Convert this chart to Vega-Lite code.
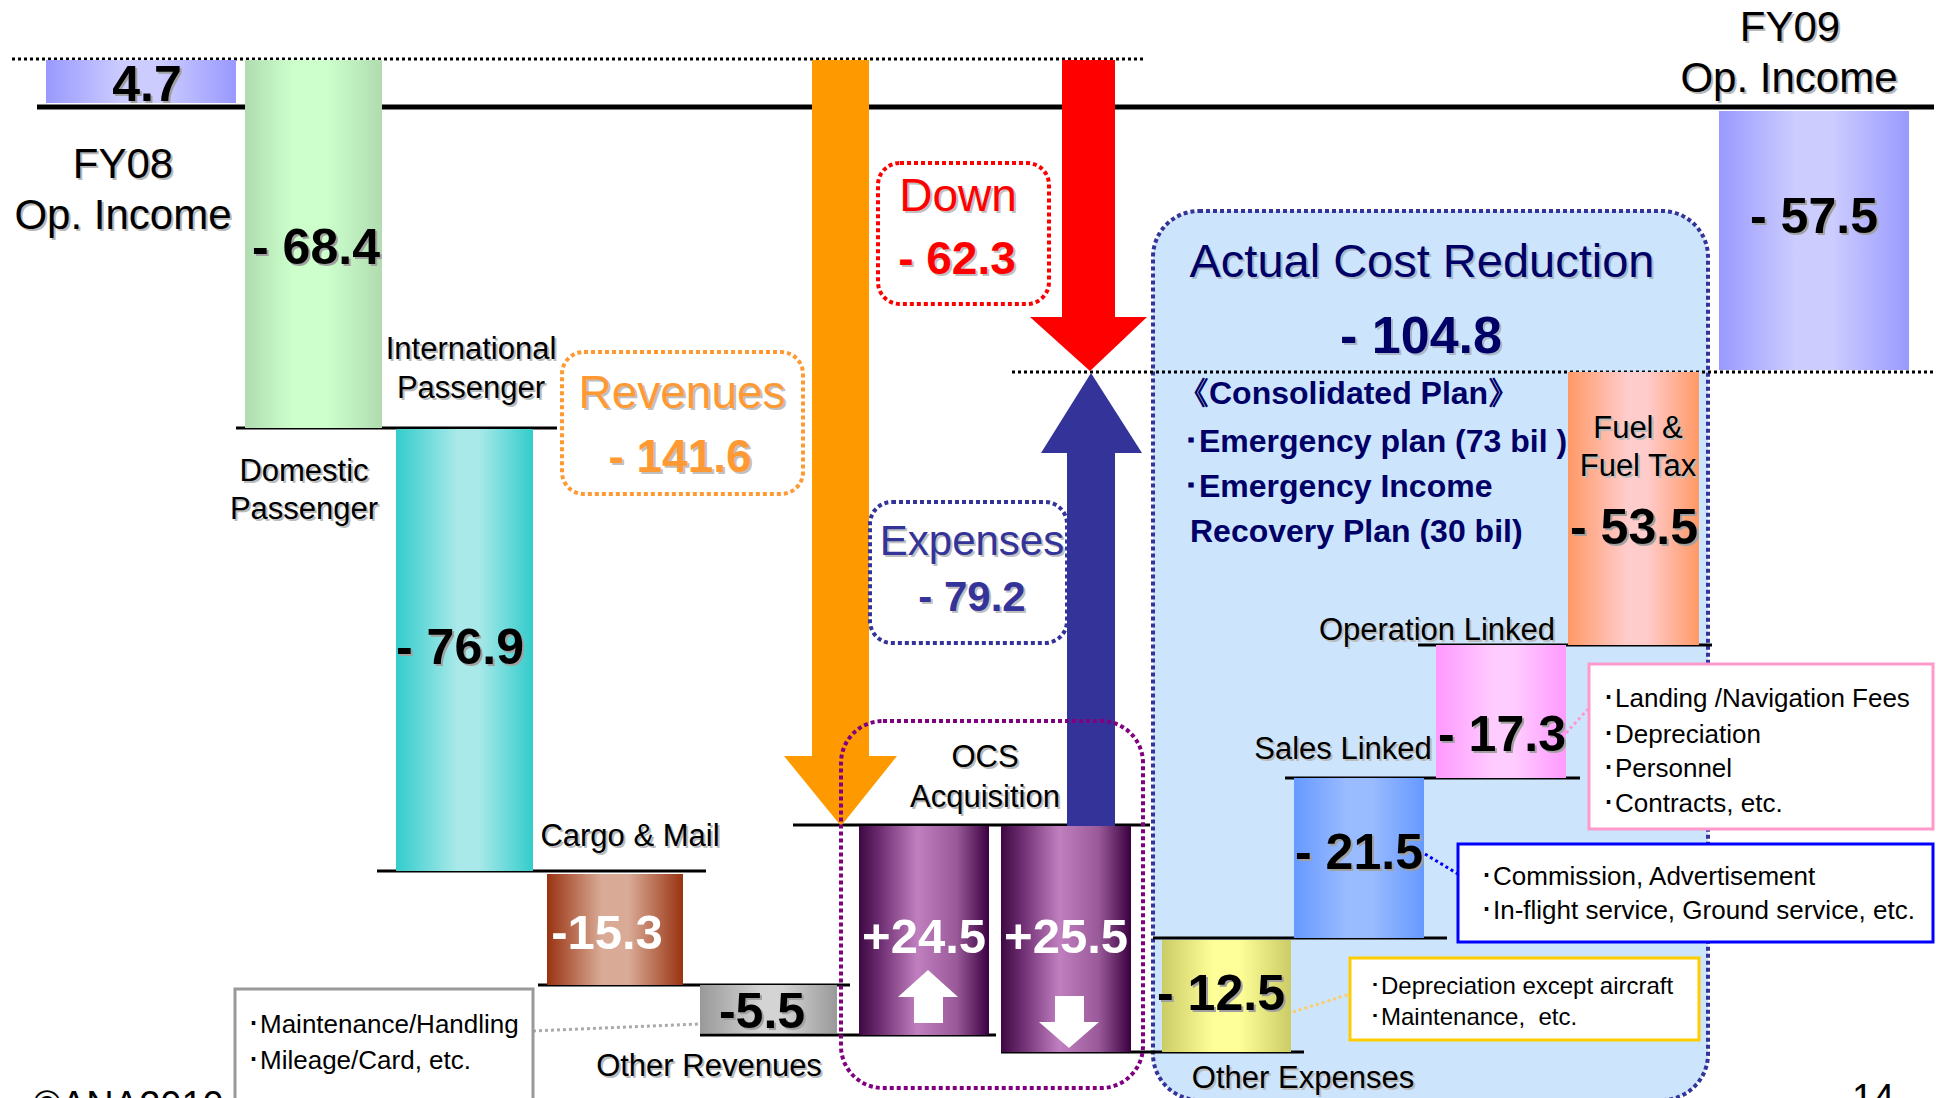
{
"$schema":"https://vega.github.io/schema/vega-lite/v6.json",
"width":1936,"height":1098,"autosize":{"type":"none"},"padding":0,
"background":"#ffffff",
"config":{"view":{"stroke":null}},
"datasets":{
"panels":[
{"id":"Actual Cost Reduction","x":1153,"x2":1708,"y":211,"y2":1100},
{"id":"Revenues","x":562,"x2":803,"y":352,"y2":494},
{"id":"Down","x":878,"x2":1049,"y":163,"y2":304},
{"id":"Expenses","x":870,"x2":1067,"y":502,"y2":643},
{"id":"OCS","x":841,"x2":1143,"y":721,"y2":1088}],
"guides":[{"id":"FY08 level","x":12,"x2":1143,"y":59},{"id":"FY09 level","x":1012,"x2":1936,"y":372}],
"baseline":[{"id":"zero","x":37,"x2":1934,"y":107}],
"steps":[
{"x":236,"x2":557,"y":428},{"x":377,"x2":706,"y":871},{"x":538,"x2":850,"y":985},
{"x":700,"x2":996,"y":1035},{"x":793,"x2":1150,"y":825},{"x":1001,"x2":1304,"y":1052},
{"x":1153,"x2":1447,"y":938},{"x":1285,"x2":1580,"y":778},{"x":1418,"x2":1712,"y":645}],
"bars":[
{"item":"FY08 Op. Income","value":4.7,"x":46,"x2":236,"y":60,"y2":103},
{"item":"International Passenger","value":-68.4,"x":245,"x2":382,"y":60,"y2":428},
{"item":"Domestic Passenger","value":-76.9,"x":396,"x2":533,"y":429,"y2":871},
{"item":"Cargo & Mail","value":-15.3,"x":547,"x2":683,"y":874,"y2":985},
{"item":"Other Revenues","value":-5.5,"x":700,"x2":837,"y":985,"y2":1033},
{"item":"OCS Revenues","value":24.5,"x":859,"x2":989,"y":826,"y2":1035},
{"item":"OCS Expenses","value":25.5,"x":1001,"x2":1131,"y":826,"y2":1052},
{"item":"Other Expenses","value":-12.5,"x":1162,"x2":1291,"y":940,"y2":1052},
{"item":"Sales Linked","value":-21.5,"x":1294,"x2":1424,"y":778,"y2":938},
{"item":"Operation Linked","value":-17.3,"x":1436,"x2":1566,"y":645,"y2":778},
{"item":"Fuel & Fuel Tax","value":-53.5,"x":1568,"x2":1699,"y":372,"y2":645},
{"item":"FY09 Op. Income","value":-57.5,"x":1719,"x2":1909,"y":111,"y2":370}],
"shafts":[
{"id":"rev","x":812,"x2":869,"y":60,"y2":757},
{"id":"down","x":1062,"x2":1115,"y":60,"y2":318},
{"id":"exp","x":1067,"x2":1115,"y":452,"y2":826},
{"id":"up_w","x":914,"x2":943,"y":996,"y2":1023},
{"id":"down_w","x":1055,"x2":1084,"y":996,"y2":1023}],
"heads":[
{"id":"rev","x":784,"y":756,"y2":756},{"id":"rev","x":841,"y":756,"y2":826},{"id":"rev","x":897,"y":756,"y2":756},
{"id":"down","x":1030,"y":317,"y2":317},{"id":"down","x":1090,"y":317,"y2":371},{"id":"down","x":1147,"y":317,"y2":317},
{"id":"exp","x":1041,"y":453,"y2":453},{"id":"exp","x":1091,"y":373,"y2":453},{"id":"exp","x":1142,"y":453,"y2":453},
{"id":"up_w","x":898,"y":997,"y2":997},{"id":"up_w","x":928,"y":970,"y2":997},{"id":"up_w","x":958,"y":997,"y2":997},
{"id":"down_w","x":1039,"y":1022,"y2":1022},{"id":"down_w","x":1069,"y":1022,"y2":1048},{"id":"down_w","x":1099,"y":1022,"y2":1022}],
"notes":[
{"id":"gray","x":235,"x2":533,"y":989,"y2":1110},
{"id":"pink","x":1589,"x2":1933,"y":664,"y2":829},
{"id":"blue","x":1458,"x2":1933,"y":844,"y2":942},
{"id":"yellow","x":1350,"x2":1699,"y":958,"y2":1040}],
"links":[
{"id":"gray","x":533,"y":1031,"x2":700,"y2":1024},
{"id":"pink","x":1566,"y":733,"x2":1589,"y2":708},
{"id":"blue","x":1425,"y":854,"x2":1458,"y2":874},
{"id":"yellow","x":1293,"y":1012,"x2":1350,"y2":994}],
"texts":[
{"s":"big","t":"FY08","x":123,"y":165},{"s":"big","t":"Op. Income","x":123,"y":216},
{"s":"big","t":"FY09","x":1790,"y":28},{"s":"big","t":"Op. Income","x":1789,"y":79},
{"s":"label","t":"International","x":471,"y":350},{"s":"label","t":"Passenger","x":471,"y":389},
{"s":"label","t":"Domestic","x":304,"y":472},{"s":"label","t":"Passenger","x":304,"y":510},
{"s":"label","t":"Cargo & Mail","x":630,"y":837},{"s":"label","t":"Other Revenues","x":709,"y":1067},
{"s":"label","t":"OCS","x":985,"y":758},{"s":"label","t":"Acquisition","x":985,"y":798},
{"s":"label","t":"Fuel &","x":1638,"y":429},{"s":"label","t":"Fuel Tax","x":1638,"y":467},
{"s":"label","t":"Operation Linked","x":1437,"y":631},{"s":"label","t":"Sales Linked","x":1343,"y":750},
{"s":"label","t":"Other Expenses","x":1303,"y":1079},
{"s":"val","t":"4.7","x":147,"y":86},{"s":"val","t":"- 68.4","x":316,"y":249},
{"s":"val","t":"- 76.9","x":460,"y":649},{"s":"val","t":"-5.5","x":762,"y":1013},
{"s":"val","t":"- 53.5","x":1634,"y":529},{"s":"val","t":"- 17.3","x":1502,"y":736},
{"s":"val","t":"- 21.5","x":1359,"y":854},{"s":"val","t":"- 12.5","x":1221,"y":995},
{"s":"val","t":"- 57.5","x":1814,"y":218},
{"s":"valw","t":"-15.3","x":607,"y":934},{"s":"valw","t":"+24.5","x":924,"y":938},{"s":"valw","t":"+25.5","x":1066,"y":938},
{"s":"revT","t":"Revenues","x":682,"y":394},{"s":"revV","t":"- 141.6","x":680,"y":458},
{"s":"downT","t":"Down","x":958,"y":197},{"s":"downV","t":"- 62.3","x":957,"y":260},
{"s":"expT","t":"Expenses","x":972,"y":542},{"s":"expV","t":"- 79.2","x":972,"y":598},
{"s":"acT","t":"Actual Cost Reduction","x":1422,"y":263},{"s":"acV","t":"- 104.8","x":1421,"y":337},
{"s":"plan","t":"《Consolidated Plan》","x":1177,"y":394},
{"s":"plan","t":"･Emergency plan (73 bil )","x":1183,"y":442},
{"s":"plan","t":"･Emergency Income","x":1183,"y":487},
{"s":"plan","t":"Recovery Plan (30 bil)","x":1190,"y":532},
{"s":"note","t":"･Maintenance/Handling","x":247,"y":1025},{"s":"note","t":"･Mileage/Card, etc.","x":247,"y":1061},
{"s":"note","t":"･Landing /Navigation Fees","x":1602,"y":699},{"s":"note","t":"･Depreciation","x":1602,"y":735},
{"s":"note","t":"･Personnel","x":1602,"y":769},{"s":"note","t":"･Contracts, etc.","x":1602,"y":804},
{"s":"note","t":"･Commission, Advertisement","x":1480,"y":877},{"s":"note","t":"･In-flight service, Ground service, etc.","x":1480,"y":911},
{"s":"note2","t":"･Depreciation except aircraft","x":1369,"y":987},{"s":"note2","t":"･Maintenance,\u00a0 etc.","x":1369,"y":1018},
{"s":"foot","t":"©ANA2010","x":33,"y":1118},{"s":"foot","t":"14","x":1852,"y":1111}]
},
"encoding":{
"x":{"field":"x","type":"quantitative","scale":{"domain":[0,1936],"nice":false,"zero":false},"axis":null},
"y":{"field":"y","type":"quantitative","scale":{"domain":[0,1098],"nice":false,"zero":false,"reverse":true},"axis":null}},
"resolve":{"scale":{"color":"independent","stroke":"independent"}},
"layer":[
{"data":{"name":"panels"},"transform":[{"filter":"datum.id==='Actual Cost Reduction'"}],
 "mark":{"type":"rect","fill":"#cce5fc","stroke":"#333399","strokeWidth":4,"strokeDash":[4,3],"cornerRadius":46},
 "encoding":{"x2":{"field":"x2"},"y2":{"field":"y2"}}},
{"data":{"name":"guides"},"mark":{"type":"rule","color":"#000000","strokeWidth":3,"strokeDash":[3,3]},"encoding":{"x2":{"field":"x2"}}},
{"data":{"name":"baseline"},"mark":{"type":"rule","color":"#000000","strokeWidth":5},"encoding":{"x2":{"field":"x2"}}},
{"data":{"name":"steps"},"mark":{"type":"rule","color":"#000000","strokeWidth":3},"encoding":{"x2":{"field":"x2"}}},
{"data":{"name":"bars"},"transform":[{"filter":"datum.item==='FY08 Op. Income' || datum.item==='FY09 Op. Income'"}],
 "mark":{"type":"rect","fill":{"gradient":"linear","stops":[{"offset":0,"color":"#9999ff"},{"offset":0.4,"color":"#ccccff"},{"offset":0.6,"color":"#ccccff"},{"offset":1,"color":"#9999ff"}]}},
 "encoding":{"x2":{"field":"x2"},"y2":{"field":"y2"}}},
{"data":{"name":"bars"},"transform":[{"filter":"datum.item==='International Passenger'"}],
 "mark":{"type":"rect","fill":{"gradient":"linear","stops":[{"offset":0,"color":"#b0dcb0"},{"offset":0.35,"color":"#ccffcc"},{"offset":0.6,"color":"#ccffcc"},{"offset":1,"color":"#b0dcb0"}]}},
 "encoding":{"x2":{"field":"x2"},"y2":{"field":"y2"}}},
{"data":{"name":"bars"},"transform":[{"filter":"datum.item==='Domestic Passenger'"}],
 "mark":{"type":"rect","fill":{"gradient":"linear","stops":[{"offset":0,"color":"#33cccc"},{"offset":0.45,"color":"#aae9e9"},{"offset":0.6,"color":"#aae9e9"},{"offset":1,"color":"#33cccc"}]}},
 "encoding":{"x2":{"field":"x2"},"y2":{"field":"y2"}}},
{"data":{"name":"bars"},"transform":[{"filter":"datum.item==='Cargo & Mail'"}],
 "mark":{"type":"rect","fill":{"gradient":"linear","stops":[{"offset":0,"color":"#993311"},{"offset":0.4,"color":"#d9aa96"},{"offset":0.6,"color":"#d9aa96"},{"offset":1,"color":"#993311"}]}},
 "encoding":{"x2":{"field":"x2"},"y2":{"field":"y2"}}},
{"data":{"name":"bars"},"transform":[{"filter":"datum.item==='Other Revenues'"}],
 "mark":{"type":"rect","fill":{"gradient":"linear","stops":[{"offset":0,"color":"#999999"},{"offset":0.45,"color":"#d4d4d4"},{"offset":0.6,"color":"#d4d4d4"},{"offset":1,"color":"#999999"}]}},
 "encoding":{"x2":{"field":"x2"},"y2":{"field":"y2"}}},
{"data":{"name":"bars"},"transform":[{"filter":"datum.item==='OCS Revenues' || datum.item==='OCS Expenses'"}],
 "mark":{"type":"rect","fill":{"gradient":"linear","stops":[{"offset":0,"color":"#3d0842"},{"offset":0.15,"color":"#6a2a6e"},{"offset":0.45,"color":"#c080c0"},{"offset":0.75,"color":"#9a5a9a"},{"offset":1,"color":"#3a003f"}]}},
 "encoding":{"x2":{"field":"x2"},"y2":{"field":"y2"}}},
{"data":{"name":"bars"},"transform":[{"filter":"datum.item==='Other Expenses'"}],
 "mark":{"type":"rect","fill":{"gradient":"linear","stops":[{"offset":0,"color":"#cccc66"},{"offset":0.4,"color":"#ffff99"},{"offset":0.6,"color":"#ffff99"},{"offset":1,"color":"#cccc66"}]}},
 "encoding":{"x2":{"field":"x2"},"y2":{"field":"y2"}}},
{"data":{"name":"bars"},"transform":[{"filter":"datum.item==='Sales Linked'"}],
 "mark":{"type":"rect","fill":{"gradient":"linear","stops":[{"offset":0,"color":"#6699ff"},{"offset":0.4,"color":"#99bbff"},{"offset":0.6,"color":"#99bbff"},{"offset":1,"color":"#6699ff"}]}},
 "encoding":{"x2":{"field":"x2"},"y2":{"field":"y2"}}},
{"data":{"name":"bars"},"transform":[{"filter":"datum.item==='Operation Linked'"}],
 "mark":{"type":"rect","fill":{"gradient":"linear","stops":[{"offset":0,"color":"#ff99ff"},{"offset":0.45,"color":"#ffccff"},{"offset":0.6,"color":"#ffccff"},{"offset":1,"color":"#ff99ff"}]}},
 "encoding":{"x2":{"field":"x2"},"y2":{"field":"y2"}}},
{"data":{"name":"bars"},"transform":[{"filter":"datum.item==='Fuel & Fuel Tax'"}],
 "mark":{"type":"rect","fill":{"gradient":"linear","stops":[{"offset":0,"color":"#ff9966"},{"offset":0.45,"color":"#ffcccc"},{"offset":0.6,"color":"#ffcccc"},{"offset":1,"color":"#ff9966"}]}},
 "encoding":{"x2":{"field":"x2"},"y2":{"field":"y2"}}},
{"data":{"name":"shafts"},"mark":{"type":"rect"},
 "encoding":{"x2":{"field":"x2"},"y2":{"field":"y2"},
  "color":{"field":"id","type":"nominal","scale":{"domain":["rev","down","exp","up_w","down_w"],"range":["#ff9900","#ff0000","#333399","#ffffff","#ffffff"]},"legend":null}}},
{"data":{"name":"heads"},"mark":{"type":"area","interpolate":"linear","opacity":1},
 "encoding":{"y":{"field":"y","type":"quantitative","stack":null,"scale":{"domain":[0,1098],"nice":false,"zero":false,"reverse":true},"axis":null},
  "y2":{"field":"y2"},
  "color":{"field":"id","type":"nominal","scale":{"domain":["rev","down","exp","up_w","down_w"],"range":["#ff9900","#ff0000","#333399","#ffffff","#ffffff"]},"legend":null}}},
{"data":{"name":"panels"},"transform":[{"filter":"datum.id==='Revenues'"}],
 "mark":{"type":"rect","filled":false,"stroke":"#ff9933","strokeWidth":4,"strokeDash":[4,3],"cornerRadius":22},
 "encoding":{"x2":{"field":"x2"},"y2":{"field":"y2"}}},
{"data":{"name":"panels"},"transform":[{"filter":"datum.id==='Down'"}],
 "mark":{"type":"rect","filled":false,"stroke":"#ff0000","strokeWidth":4,"strokeDash":[4,3],"cornerRadius":22},
 "encoding":{"x2":{"field":"x2"},"y2":{"field":"y2"}}},
{"data":{"name":"panels"},"transform":[{"filter":"datum.id==='Expenses'"}],
 "mark":{"type":"rect","filled":false,"stroke":"#333399","strokeWidth":4,"strokeDash":[4,3],"cornerRadius":22},
 "encoding":{"x2":{"field":"x2"},"y2":{"field":"y2"}}},
{"data":{"name":"panels"},"transform":[{"filter":"datum.id==='OCS'"}],
 "mark":{"type":"rect","filled":false,"stroke":"#800080","strokeWidth":4,"strokeDash":[4,3],"cornerRadius":42},
 "encoding":{"x2":{"field":"x2"},"y2":{"field":"y2"}}},
{"data":{"name":"links"},"mark":{"type":"rule","strokeWidth":3,"strokeDash":[3,3]},
 "encoding":{"x2":{"field":"x2"},"y2":{"field":"y2"},
  "stroke":{"field":"id","type":"nominal","scale":{"domain":["gray","pink","blue","yellow"],"range":["#aaaaaa","#ff99cc","#0000ff","#ffcc66"]},"legend":null}}},
{"data":{"name":"notes"},"mark":{"type":"rect","fill":"#ffffff","strokeWidth":3},
 "encoding":{"x2":{"field":"x2"},"y2":{"field":"y2"},
  "stroke":{"field":"id","type":"nominal","scale":{"domain":["gray","pink","blue","yellow"],"range":["#999999","#ff99cc","#0000ff","#ffcc00"]},"legend":null}}},

{"data":{"name":"texts"},"transform":[{"filter":"datum.s==='big'"}],"mark":{"type":"text","font":"Liberation Sans","fontSize":42,"align":"center","baseline":"middle","color":"#b8b8b8","dx":2,"dy":2},"encoding":{"text":{"field":"t"}}},
{"data":{"name":"texts"},"transform":[{"filter":"datum.s==='big'"}],"mark":{"type":"text","font":"Liberation Sans","fontSize":42,"align":"center","baseline":"middle","color":"#000000"},"encoding":{"text":{"field":"t"}}},
{"data":{"name":"texts"},"transform":[{"filter":"datum.s==='label'"}],"mark":{"type":"text","font":"Liberation Sans","fontSize":31,"align":"center","baseline":"middle","color":"#bbbbbb","dx":2,"dy":2},"encoding":{"text":{"field":"t"}}},
{"data":{"name":"texts"},"transform":[{"filter":"datum.s==='label'"}],"mark":{"type":"text","font":"Liberation Sans","fontSize":31,"align":"center","baseline":"middle","color":"#000000"},"encoding":{"text":{"field":"t"}}},
{"data":{"name":"texts"},"transform":[{"filter":"datum.s==='val'"}],"mark":{"type":"text","font":"Liberation Sans","fontSize":50,"fontWeight":"bold","align":"center","baseline":"middle","color":"#a0a0a0","dx":2,"dy":2},"encoding":{"text":{"field":"t"}}},
{"data":{"name":"texts"},"transform":[{"filter":"datum.s==='val'"}],"mark":{"type":"text","font":"Liberation Sans","fontSize":50,"fontWeight":"bold","align":"center","baseline":"middle","color":"#000000"},"encoding":{"text":{"field":"t"}}},
{"data":{"name":"texts"},"transform":[{"filter":"datum.s==='valw'"}],"mark":{"type":"text","font":"Liberation Sans","fontSize":49,"fontWeight":"bold","align":"center","baseline":"middle","color":"#ffffff"},"encoding":{"text":{"field":"t"}}},
{"data":{"name":"texts"},"transform":[{"filter":"datum.s==='revT' || datum.s==='downT'"}],"mark":{"type":"text","font":"Liberation Sans","fontSize":46,"align":"center","baseline":"middle","color":"#c0c0c0","dx":2,"dy":2},"encoding":{"text":{"field":"t"}}},
{"data":{"name":"texts"},"transform":[{"filter":"datum.s==='revV' || datum.s==='downV'"}],"mark":{"type":"text","font":"Liberation Sans","fontSize":46,"fontWeight":"bold","align":"center","baseline":"middle","color":"#c0c0c0","dx":2,"dy":2},"encoding":{"text":{"field":"t"}}},
{"data":{"name":"texts"},"transform":[{"filter":"datum.s==='revT'"}],"mark":{"type":"text","font":"Liberation Sans","fontSize":46,"align":"center","baseline":"middle","color":"#ff9933"},"encoding":{"text":{"field":"t"}}},
{"data":{"name":"texts"},"transform":[{"filter":"datum.s==='revV'"}],"mark":{"type":"text","font":"Liberation Sans","fontSize":46,"fontWeight":"bold","align":"center","baseline":"middle","color":"#ff9933"},"encoding":{"text":{"field":"t"}}},
{"data":{"name":"texts"},"transform":[{"filter":"datum.s==='downT'"}],"mark":{"type":"text","font":"Liberation Sans","fontSize":46,"align":"center","baseline":"middle","color":"#ff0000"},"encoding":{"text":{"field":"t"}}},
{"data":{"name":"texts"},"transform":[{"filter":"datum.s==='downV'"}],"mark":{"type":"text","font":"Liberation Sans","fontSize":46,"fontWeight":"bold","align":"center","baseline":"middle","color":"#ff0000"},"encoding":{"text":{"field":"t"}}},
{"data":{"name":"texts"},"transform":[{"filter":"datum.s==='expT'"}],"mark":{"type":"text","font":"Liberation Sans","fontSize":42,"align":"center","baseline":"middle","color":"#c0c0c0","dx":2,"dy":2},"encoding":{"text":{"field":"t"}}},
{"data":{"name":"texts"},"transform":[{"filter":"datum.s==='expT'"}],"mark":{"type":"text","font":"Liberation Sans","fontSize":42,"align":"center","baseline":"middle","color":"#333399"},"encoding":{"text":{"field":"t"}}},
{"data":{"name":"texts"},"transform":[{"filter":"datum.s==='expV'"}],"mark":{"type":"text","font":"Liberation Sans","fontSize":42,"fontWeight":"bold","align":"center","baseline":"middle","color":"#c0c0c0","dx":2,"dy":2},"encoding":{"text":{"field":"t"}}},
{"data":{"name":"texts"},"transform":[{"filter":"datum.s==='expV'"}],"mark":{"type":"text","font":"Liberation Sans","fontSize":42,"fontWeight":"bold","align":"center","baseline":"middle","color":"#333399"},"encoding":{"text":{"field":"t"}}},
{"data":{"name":"texts"},"transform":[{"filter":"datum.s==='acT'"}],"mark":{"type":"text","font":"Liberation Sans","fontSize":47,"align":"center","baseline":"middle","color":"#a8b8c8","dx":2,"dy":2},"encoding":{"text":{"field":"t"}}},
{"data":{"name":"texts"},"transform":[{"filter":"datum.s==='acT'"}],"mark":{"type":"text","font":"Liberation Sans","fontSize":47,"align":"center","baseline":"middle","color":"#000066"},"encoding":{"text":{"field":"t"}}},
{"data":{"name":"texts"},"transform":[{"filter":"datum.s==='acV'"}],"mark":{"type":"text","font":"Liberation Sans","fontSize":52,"fontWeight":"bold","align":"center","baseline":"middle","color":"#a8b8c8","dx":2,"dy":2},"encoding":{"text":{"field":"t"}}},
{"data":{"name":"texts"},"transform":[{"filter":"datum.s==='acV'"}],"mark":{"type":"text","font":"Liberation Sans","fontSize":52,"fontWeight":"bold","align":"center","baseline":"middle","color":"#000066"},"encoding":{"text":{"field":"t"}}},
{"data":{"name":"texts"},"transform":[{"filter":"datum.s==='plan'"}],"mark":{"type":"text","font":"Liberation Sans","fontSize":32,"fontWeight":"bold","align":"left","baseline":"middle","color":"#000066"},"encoding":{"text":{"field":"t"}}},
{"data":{"name":"texts"},"transform":[{"filter":"datum.s==='note'"}],"mark":{"type":"text","font":"Liberation Sans","fontSize":26,"align":"left","baseline":"middle","color":"#000000"},"encoding":{"text":{"field":"t"}}},
{"data":{"name":"texts"},"transform":[{"filter":"datum.s==='note2'"}],"mark":{"type":"text","font":"Liberation Sans","fontSize":24,"align":"left","baseline":"middle","color":"#000000"},"encoding":{"text":{"field":"t"}}},
{"data":{"name":"texts"},"transform":[{"filter":"datum.s==='foot'"}],"mark":{"type":"text","font":"Liberation Sans","fontSize":38,"align":"left","baseline":"alphabetic","color":"#000000"},"encoding":{"text":{"field":"t"}}}
]
}
